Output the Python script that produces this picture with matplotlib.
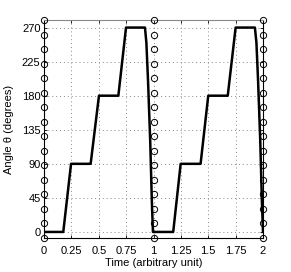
import matplotlib.pyplot as plt
import numpy as np

# angle trace
t = [0, 0.176, 0.247, 0.426, 0.502, 0.679, 0.749, 0.922, 0.935,
     0.95, 0.97, 0.985, 0.995,
     1.18, 1.248, 1.43, 1.50, 1.678, 1.75, 1.926, 1.94,
     1.955, 1.975, 1.99, 2.0]
theta = [0, 0, 90, 90, 180, 180, 270, 270, 250,
         200, 120, 40, 0,
         0, 90, 90, 180, 180, 270, 270, 250,
         200, 120, 40, 0]

xticks = [0, 0.25, 0.5, 0.75, 1, 1.25, 1.5, 1.75, 2]
xlabels = ['0', '0.25', '0.5', '0.75', '1', '1.25', '1.5', '1.75', '2']
yticks = [0, 45, 90, 135, 180, 225, 270]
marker_cols = [0, 1, 2]
ylo, yhi = -8, 280

plt.rcParams['font.family'] = 'Liberation Sans'
plt.rcParams['font.size'] = 8

fig = plt.figure(figsize=(2.91, 2.72), dpi=100)
ax = fig.add_axes([44/291, 34/272, 219/291, 218/272])

for xc in marker_cols:
    ax.plot([xc]*16, np.linspace(ylo, yhi, 16), 'o', ms=4.5, mfc='none',
            mec='black', mew=0.7, clip_on=False, zorder=4)

ax.plot(t, theta, color='black', lw=1.8, zorder=3)

ax.set_xlim(0, 2)
ax.set_ylim(ylo, yhi)
ax.set_xticks(xticks)
ax.set_xticklabels(xlabels)
ax.set_yticks(yticks)
ax.grid(True, linestyle=(0, (1, 3)), color='#888888', lw=0.7)
ax.tick_params(direction='in', length=2.5, width=0.6, top=True, right=True)
ax.tick_params(axis='x', pad=6)
ax.tick_params(axis='y', pad=2.5)
ax.spines['top'].set_color('#888888')
for s in ['left', 'bottom', 'right']:
    ax.spines[s].set_color('black')
for s in ax.spines.values():
    s.set_linewidth(0.8)

ax.set_xlabel('Time (arbitrary unit)', labelpad=1)
ax.set_ylabel('Angle θ (degrees)', labelpad=6)

fig.savefig('out.png', dpi=100)
